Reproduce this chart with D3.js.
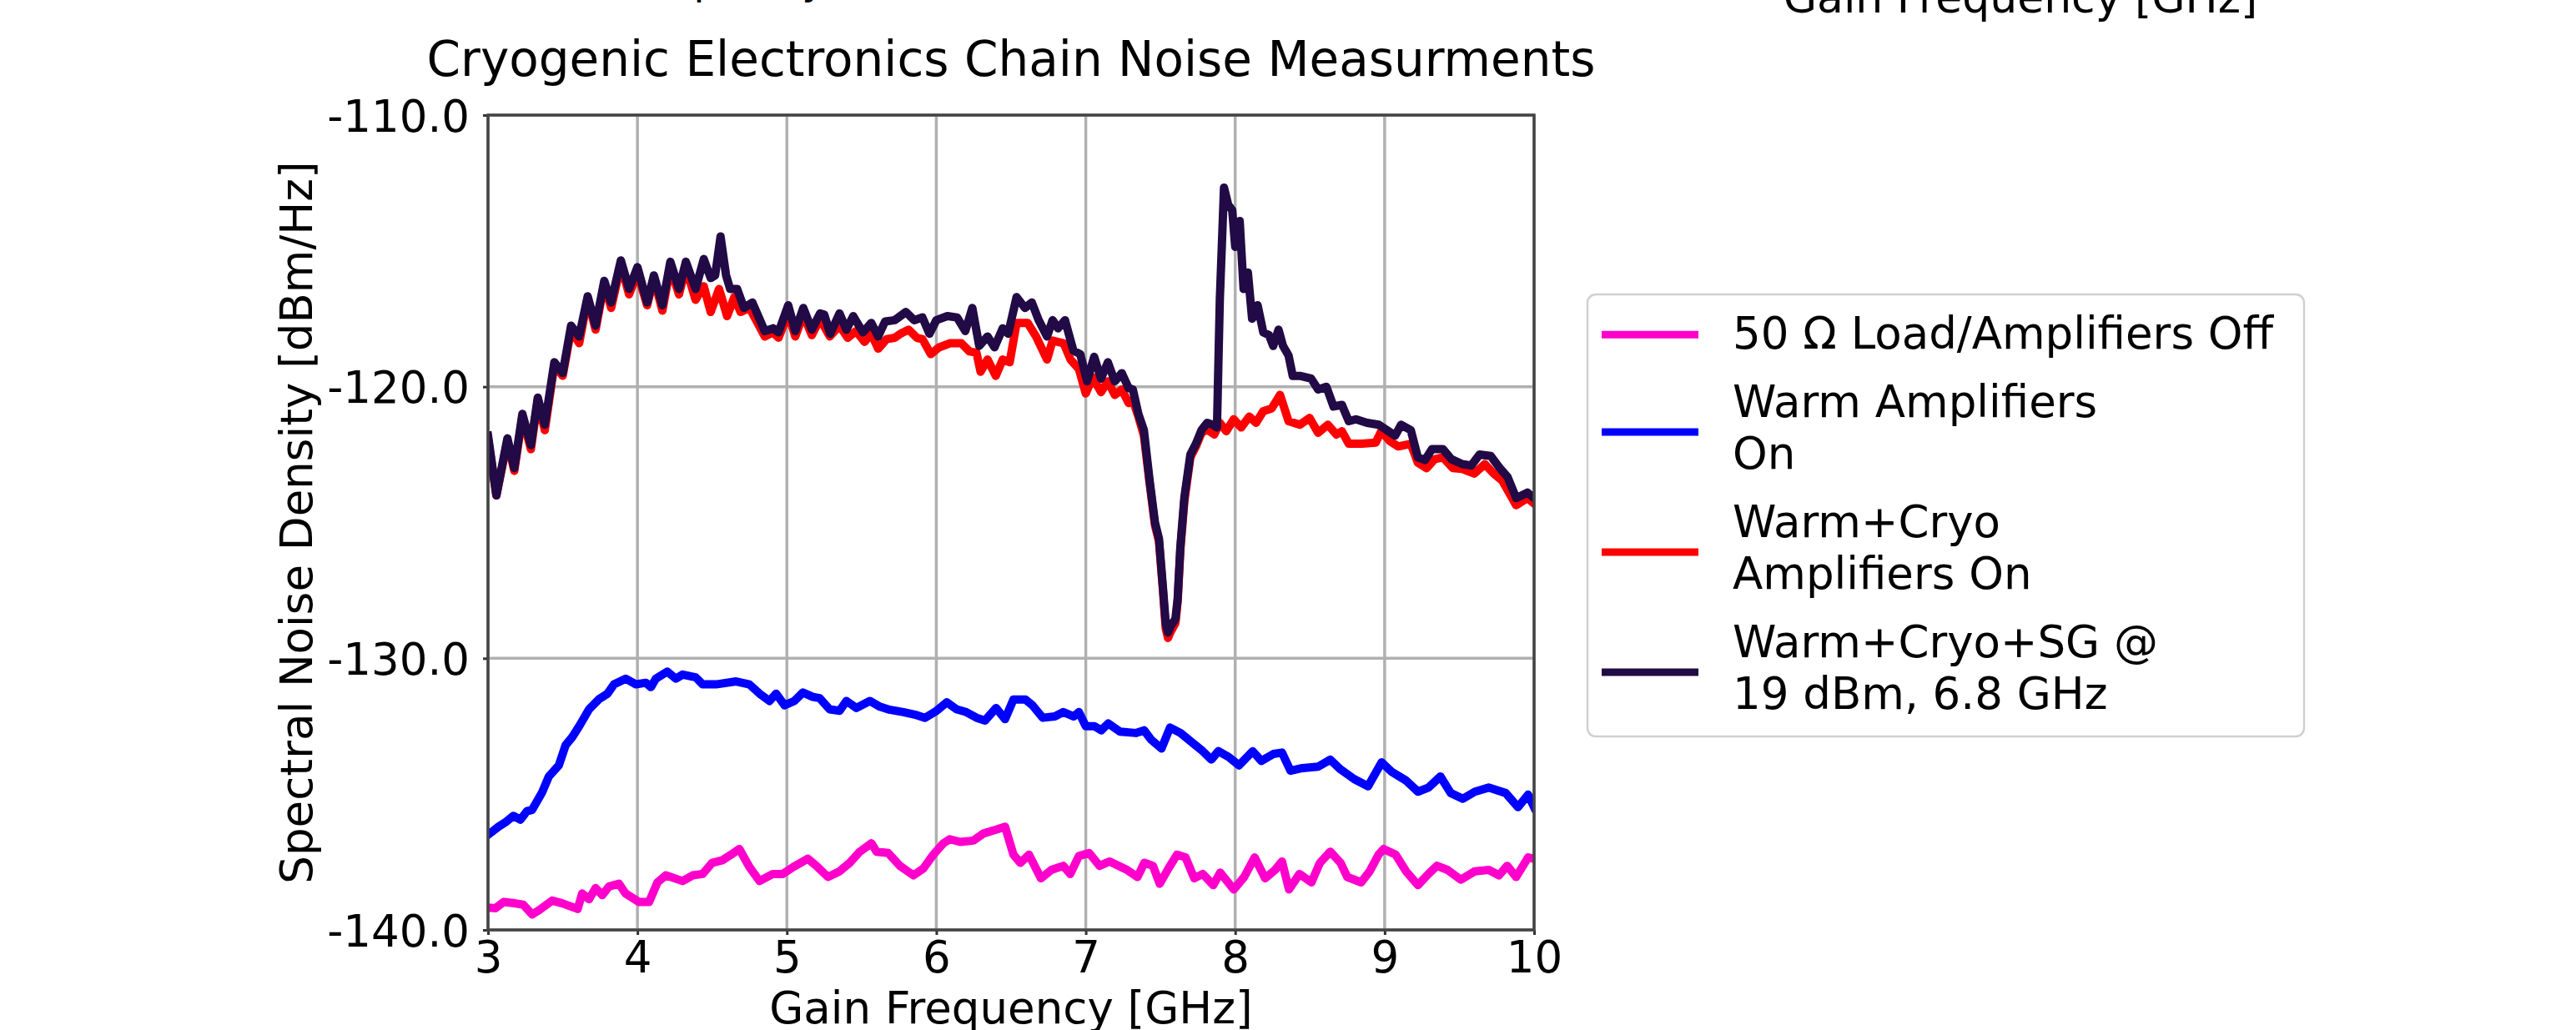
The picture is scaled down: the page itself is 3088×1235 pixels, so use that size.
<!DOCTYPE html>
<html><head><meta charset="utf-8">
<script src="https://cdn.jsdelivr.net/npm/d3@7"></script>
<style>
body{margin:0;background:#fff;}
svg{display:block;font-family:"DejaVu Sans";}
</style>
</head><body>
<svg id="c" width="3088" height="1235"></svg>
<script>
// ---------------- data ----------------
const xTicks = [3, 4, 5, 6, 7, 8, 9, 10];
const yTicks = [-140, -130, -120, -110];
const yTickLabels = ["-140.0", "-130.0", "-120.0", "-110.0"];
const titleText = "Cryogenic Electronics Chain Noise Measurments";
const xLabelText = "Gain Frequency [GHz]";
const yLabelText = "Spectral Noise Density [dBm/Hz]";
const legendLabels = [
  ["50 Ω Load/Amplifiers Off"],
  ["Warm Amplifiers", "On"],
  ["Warm+Cryo", "Amplifiers On"],
  ["Warm+Cryo+SG @", "19 dBm, 6.8 GHz"]
];
const seriesColors = ["#ff00cc", "#0000ff", "#ff0000", "#210a45"];

const loadOff = [[3.0,-139.18],[3.05,-139.2],[3.105,-138.97],[3.18,-139.02],[3.235,-139.07],[3.295,-139.43],[3.34,-139.28],[3.43,-138.92],[3.497,-139.02],[3.6,-139.23],[3.63,-138.66],[3.676,-138.87],[3.72,-138.46],[3.765,-138.72],[3.81,-138.4],[3.877,-138.3],[3.92,-138.66],[4.01,-138.97],[4.078,-138.97],[4.134,-138.25],[4.19,-137.99],[4.302,-138.2],[4.37,-137.99],[4.436,-137.94],[4.5,-137.53],[4.57,-137.43],[4.626,-137.23],[4.682,-137.02],[4.75,-137.69],[4.817,-138.2],[4.906,-137.94],[4.973,-137.94],[5.04,-137.69],[5.14,-137.38],[5.197,-137.64],[5.275,-138.05],[5.353,-137.84],[5.42,-137.53],[5.488,-137.12],[5.566,-136.81],[5.6,-137.12],[5.678,-137.17],[5.756,-137.64],[5.846,-137.99],[5.913,-137.74],[5.98,-137.23],[6.047,-136.81],[6.09,-136.66],[6.16,-136.76],[6.248,-136.71],[6.315,-136.45],[6.405,-136.3],[6.46,-136.2],[6.516,-137.23],[6.562,-137.53],[6.62,-137.23],[6.7,-138.1],[6.77,-137.79],[6.85,-137.64],[6.896,-137.94],[6.954,-137.28],[7.023,-137.17],[7.092,-137.64],[7.16,-137.48],[7.276,-137.79],[7.346,-138.05],[7.392,-137.53],[7.45,-137.64],[7.495,-138.3],[7.553,-137.74],[7.61,-137.23],[7.668,-137.33],[7.726,-138.1],[7.783,-137.94],[7.853,-138.35],[7.9,-137.89],[7.99,-138.51],[8.06,-138.05],[8.13,-137.33],[8.2,-138.1],[8.267,-137.79],[8.313,-137.48],[8.36,-138.51],[8.43,-137.94],[8.51,-138.25],[8.567,-137.53],[8.636,-137.12],[8.705,-137.53],[8.75,-138.05],[8.843,-138.25],[8.9,-137.84],[8.959,-137.23],[8.993,-137.02],[9.074,-137.23],[9.143,-137.84],[9.223,-138.35],[9.293,-137.94],[9.35,-137.64],[9.42,-137.79],[9.51,-138.15],[9.604,-137.84],[9.696,-137.79],[9.765,-137.99],[9.82,-137.64],[9.88,-138.05],[9.96,-137.33],[10.0,-137.38]];

const warmOn = [[3.0,-136.5],[3.07,-136.2],[3.116,-136.04],[3.17,-135.8],[3.217,-135.94],[3.26,-135.63],[3.295,-135.58],[3.36,-134.96],[3.407,-134.35],[3.474,-133.94],[3.519,-133.2],[3.564,-132.9],[3.61,-132.5],[3.676,-131.88],[3.743,-131.5],[3.8,-131.3],[3.843,-130.96],[3.922,-130.75],[3.99,-130.96],[4.056,-130.9],[4.09,-131.06],[4.123,-130.75],[4.2,-130.49],[4.257,-130.75],[4.302,-130.6],[4.39,-130.7],[4.436,-130.96],[4.526,-130.96],[4.66,-130.85],[4.749,-130.96],[4.817,-131.3],[4.884,-131.57],[4.928,-131.3],[4.984,-131.73],[5.05,-131.57],[5.107,-131.26],[5.174,-131.42],[5.22,-131.47],[5.286,-131.88],[5.353,-131.93],[5.398,-131.57],[5.465,-131.83],[5.555,-131.57],[5.622,-131.78],[5.678,-131.88],[5.78,-131.98],[5.868,-132.09],[5.924,-132.19],[6.002,-131.93],[6.07,-131.62],[6.136,-131.88],[6.2,-131.98],[6.27,-132.19],[6.326,-132.29],[6.4,-131.83],[6.46,-132.24],[6.516,-131.52],[6.597,-131.52],[6.643,-131.73],[6.712,-132.19],[6.793,-132.14],[6.85,-131.98],[6.92,-132.14],[6.954,-131.98],[7.0,-132.5],[7.058,-132.5],[7.104,-132.65],[7.15,-132.4],[7.23,-132.7],[7.334,-132.75],[7.39,-132.65],[7.438,-133.0],[7.507,-133.32],[7.564,-132.55],[7.634,-132.75],[7.714,-133.11],[7.783,-133.42],[7.84,-133.73],[7.887,-133.42],[7.956,-133.63],[8.025,-133.94],[8.117,-133.42],[8.175,-133.78],[8.256,-133.52],[8.313,-133.47],[8.37,-134.14],[8.45,-134.04],[8.555,-133.99],[8.636,-133.73],[8.705,-134.09],[8.797,-134.45],[8.889,-134.71],[8.98,-133.83],[9.05,-134.19],[9.143,-134.5],[9.223,-134.91],[9.293,-134.76],[9.373,-134.35],[9.442,-134.96],[9.523,-135.17],[9.604,-134.91],[9.696,-134.76],[9.81,-134.96],[9.892,-135.48],[9.96,-135.02],[10.0,-135.48]];

const warmCryo = [[3.0,-121.9],[3.056,-124.0],[3.13,-122.0],[3.176,-123.1],[3.23,-121.1],[3.287,-122.3],[3.333,-120.5],[3.38,-121.6],[3.444,-119.2],[3.5,-119.6],[3.556,-117.9],[3.61,-118.4],[3.667,-116.75],[3.72,-117.9],[3.778,-116.2],[3.824,-117.1],[3.889,-115.5],[3.944,-116.6],[4.0,-115.8],[4.065,-117.0],[4.11,-116.0],[4.167,-117.2],[4.22,-115.6],[4.278,-116.6],[4.324,-115.6],[4.389,-116.8],[4.444,-116.3],[4.49,-117.25],[4.546,-116.4],[4.6,-117.4],[4.648,-116.7],[4.69,-117.25],[4.75,-117.1],[4.852,-118.15],[4.907,-118.0],[4.944,-118.2],[5.009,-117.3],[5.056,-118.15],[5.11,-117.35],[5.167,-118.1],[5.222,-117.5],[5.287,-118.15],[5.352,-117.75],[5.407,-118.2],[5.463,-117.95],[5.52,-118.35],[5.565,-118.05],[5.611,-118.6],[5.667,-118.25],[5.722,-118.2],[5.759,-118.05],[5.815,-117.9],[5.87,-118.2],[5.907,-118.25],[5.963,-118.8],[6.019,-118.55],[6.093,-118.4],[6.167,-118.4],[6.222,-118.7],[6.269,-118.75],[6.296,-119.45],[6.343,-119.0],[6.398,-119.6],[6.444,-119.0],[6.491,-119.1],[6.537,-117.65],[6.611,-117.65],[6.667,-118.15],[6.741,-119.0],[6.778,-118.3],[6.852,-118.4],[6.898,-119.0],[6.954,-119.35],[7.0,-120.25],[7.046,-119.65],[7.102,-120.2],[7.148,-119.8],[7.194,-120.3],[7.241,-120.1],[7.287,-120.6],[7.315,-120.5],[7.352,-121.1],[7.389,-121.8],[7.426,-123.5],[7.463,-125.1],[7.49,-125.7],[7.515,-127.4],[7.535,-128.9],[7.55,-129.25],[7.57,-129.0],[7.6,-128.7],[7.615,-127.9],[7.633,-126.0],[7.66,-124.2],[7.7,-122.6],[7.737,-122.2],[7.774,-121.7],[7.812,-121.58],[7.86,-121.76],[7.897,-121.33],[7.94,-121.64],[7.99,-121.2],[8.04,-121.5],[8.094,-121.1],[8.14,-121.33],[8.188,-120.9],[8.244,-120.8],[8.3,-120.3],[8.357,-121.27],[8.432,-121.4],[8.498,-121.15],[8.555,-121.7],[8.62,-121.4],[8.677,-121.76],[8.714,-121.64],[8.76,-122.1],[8.846,-122.1],[8.94,-122.06],[8.977,-121.64],[9.034,-122.0],[9.09,-122.2],[9.175,-122.1],[9.222,-122.8],[9.28,-123.0],[9.335,-122.67],[9.39,-122.6],[9.457,-123.0],[9.52,-123.03],[9.6,-123.2],[9.67,-122.85],[9.73,-123.2],[9.786,-123.45],[9.88,-124.36],[9.955,-124.1],[10.0,-124.3]];

const warmCryoSG = [[3.0,-121.8],[3.056,-124.0],[3.13,-121.9],[3.176,-123.0],[3.23,-121.0],[3.287,-122.15],[3.333,-120.4],[3.38,-121.4],[3.444,-119.1],[3.5,-119.5],[3.556,-117.75],[3.61,-118.15],[3.667,-116.67],[3.72,-117.75],[3.778,-116.1],[3.824,-116.9],[3.889,-115.35],[3.944,-116.4],[4.0,-115.6],[4.065,-116.9],[4.11,-115.9],[4.167,-117.0],[4.22,-115.4],[4.278,-116.4],[4.324,-115.4],[4.389,-116.4],[4.444,-115.3],[4.49,-116.0],[4.52,-115.9],[4.556,-114.47],[4.593,-115.9],[4.62,-116.4],[4.667,-116.4],[4.713,-117.1],[4.769,-116.9],[4.852,-117.95],[4.907,-117.85],[4.944,-118.0],[5.009,-117.0],[5.056,-117.95],[5.11,-117.1],[5.167,-117.9],[5.222,-117.3],[5.25,-117.35],[5.29,-118.05],[5.352,-117.3],[5.398,-117.9],[5.444,-117.4],[5.509,-118.0],[5.565,-117.65],[5.611,-118.15],[5.657,-117.6],[5.722,-117.55],[5.796,-117.25],[5.852,-117.55],[5.907,-117.45],[5.954,-118.05],[6.0,-117.55],[6.074,-117.4],[6.139,-117.45],[6.194,-117.95],[6.241,-117.1],[6.287,-118.5],[6.343,-118.15],[6.389,-118.55],[6.444,-117.85],[6.481,-118.05],[6.537,-116.7],[6.593,-117.1],[6.639,-116.9],[6.685,-117.55],[6.741,-118.15],[6.778,-117.55],[6.815,-117.85],[6.861,-117.55],[6.917,-118.67],[6.963,-118.8],[7.009,-119.8],[7.056,-118.9],[7.102,-119.7],[7.148,-119.1],[7.194,-119.8],[7.241,-119.5],[7.287,-120.05],[7.315,-120.1],[7.352,-121.0],[7.389,-121.6],[7.426,-123.4],[7.463,-125.0],[7.49,-125.6],[7.515,-127.3],[7.535,-128.7],[7.55,-129.05],[7.57,-128.8],[7.6,-128.55],[7.615,-127.8],[7.633,-125.9],[7.66,-124.06],[7.7,-122.5],[7.737,-122.1],[7.774,-121.6],[7.812,-121.33],[7.85,-121.4],[7.878,-121.5],[7.897,-116.8],[7.925,-112.67],[7.953,-113.3],[7.98,-113.5],[8.0,-114.85],[8.03,-113.9],[8.056,-116.4],[8.085,-115.8],[8.113,-117.5],[8.15,-117.0],[8.188,-118.0],[8.226,-118.1],[8.254,-118.5],[8.29,-117.9],[8.32,-118.5],[8.357,-118.85],[8.385,-119.6],[8.432,-119.6],[8.508,-119.7],[8.555,-120.1],[8.61,-120.0],[8.658,-120.73],[8.714,-120.67],[8.76,-121.27],[8.808,-121.2],[8.883,-121.33],[8.96,-121.4],[9.015,-121.6],[9.07,-121.8],[9.11,-121.4],[9.175,-121.6],[9.222,-122.6],[9.27,-122.7],[9.316,-122.3],[9.39,-122.3],[9.447,-122.67],[9.52,-122.85],[9.58,-122.9],[9.635,-122.5],[9.71,-122.55],[9.767,-122.97],[9.823,-123.33],[9.88,-124.1],[9.955,-123.9],[10.0,-124.1]];

const allSeries = [loadOff, warmOn, warmCryo, warmCryoSG];

// ---------------- layout ----------------
const P = {left: 585, right: 1839, top: 138, bottom: 1115};
const FS = 53;
const svg = d3.select("#c");

const x = d3.scaleLinear().domain([3, 10]).range([P.left, P.right]);
const y = d3.scaleLinear().domain([-140, -110]).range([P.bottom, P.top]);

// clipped-off labels of neighbouring panels
svg.append("text").attr("x", 2422).attr("y", 15).attr("text-anchor", "middle")
  .attr("font-size", 52).attr("fill", "#000").text(xLabelText);
svg.append("text").attr("x", 616).attr("y", -7).attr("text-anchor", "start")
  .attr("font-size", 48).attr("fill", "#000").text(xLabelText);

// grid
const grid = svg.append("g");
grid.selectAll(".gx").data(xTicks).join("line")
  .attr("x1", d => x(d)).attr("x2", d => x(d)).attr("y1", P.top).attr("y2", P.bottom)
  .attr("stroke", "#b0b0b0").attr("stroke-width", 3.5);
grid.selectAll(".gy").data(yTicks).join("line")
  .attr("x1", P.left).attr("x2", P.right).attr("y1", d => y(d)).attr("y2", d => y(d))
  .attr("stroke", "#b0b0b0").attr("stroke-width", 3.5);

// clip
svg.append("defs").append("clipPath").attr("id", "plotclip").append("rect")
  .attr("x", P.left).attr("y", P.top).attr("width", P.right - P.left).attr("height", P.bottom - P.top);

const line = d3.line().x(d => x(d[0])).y(d => y(d[1]));
svg.append("g").attr("clip-path", "url(#plotclip)")
  .selectAll("path").data(allSeries).join("path")
  .attr("d", line).attr("fill", "none")
  .attr("stroke", (d, i) => seriesColors[i])
  .attr("stroke-width", 10).attr("stroke-linejoin", "round").attr("stroke-linecap", "square");

// axes
const xAxis = d3.axisBottom(x).tickValues(xTicks).tickSize(6).tickFormat(d => String(d));
const gx = svg.append("g").attr("transform", `translate(0,${P.bottom})`).call(xAxis);
gx.select(".domain").remove();
gx.selectAll(".tick line").attr("stroke", "#333").attr("stroke-width", 3);
gx.selectAll(".tick text").attr("y", 51).attr("dy", null)
  .attr("font-size", FS).attr("font-family", "DejaVu Sans").attr("fill", "#000");

const yAxis = d3.axisLeft(y).tickValues(yTicks).tickSize(6)
  .tickFormat(d => yTickLabels[yTicks.indexOf(d)]);
const gy = svg.append("g").attr("transform", `translate(${P.left},0)`).call(yAxis);
gy.select(".domain").remove();
gy.selectAll(".tick line").attr("stroke", "#333").attr("stroke-width", 3);
gy.selectAll(".tick text").attr("x", -22).attr("dy", null).attr("y", 19)
  .attr("font-size", FS).attr("font-family", "DejaVu Sans").attr("fill", "#000");

// frame
svg.append("rect").attr("x", P.left).attr("y", P.top)
  .attr("width", P.right - P.left).attr("height", P.bottom - P.top)
  .attr("fill", "none").attr("stroke", "#444").attr("stroke-width", 3.5);

// title & labels
svg.append("text").attr("x", (P.left + P.right) / 2).attr("y", 91).attr("text-anchor", "middle")
  .attr("font-size", 58).attr("fill", "#000").text(titleText);
svg.append("text").attr("x", (P.left + P.right) / 2).attr("y", 1227).attr("text-anchor", "middle")
  .attr("font-size", FS).attr("fill", "#000").text(xLabelText);
svg.append("text").attr("transform", `translate(374,${(P.top + P.bottom) / 2}) rotate(-90)`)
  .attr("text-anchor", "middle").attr("font-size", FS).attr("fill", "#000").text(yLabelText);

// legend
const L = {x: 1903, y: 353, w: 859, h: 530, hx1: 1920, hx2: 2036, tx: 2077,
           firstBase: 418, lineGap: 62.5, entryGap: 81.5};
svg.append("rect").attr("x", L.x).attr("y", L.y).attr("width", L.w).attr("height", L.h)
  .attr("rx", 10).attr("fill", "#fff").attr("fill-opacity", 0.8)
  .attr("stroke", "#d0d0d0").attr("stroke-width", 2.5);
let base = L.firstBase;
legendLabels.forEach((lines, i) => {
  const top = base - 0.76 * FS;
  const last = base + (lines.length - 1) * L.lineGap;
  const bottom = last + 0.24 * FS;
  const cy = (top + bottom) / 2 + (lines.length === 1 ? -3 : 1);
  svg.append("line").attr("x1", L.hx1).attr("x2", L.hx2).attr("y1", cy).attr("y2", cy)
    .attr("stroke", seriesColors[i]).attr("stroke-width", 9);
  lines.forEach((t, j) => {
    svg.append("text").attr("x", L.tx).attr("y", base + j * L.lineGap)
      .attr("font-size", FS).attr("fill", "#000").text(t);
  });
  base = last + L.entryGap;
});
</script>
</body></html>
